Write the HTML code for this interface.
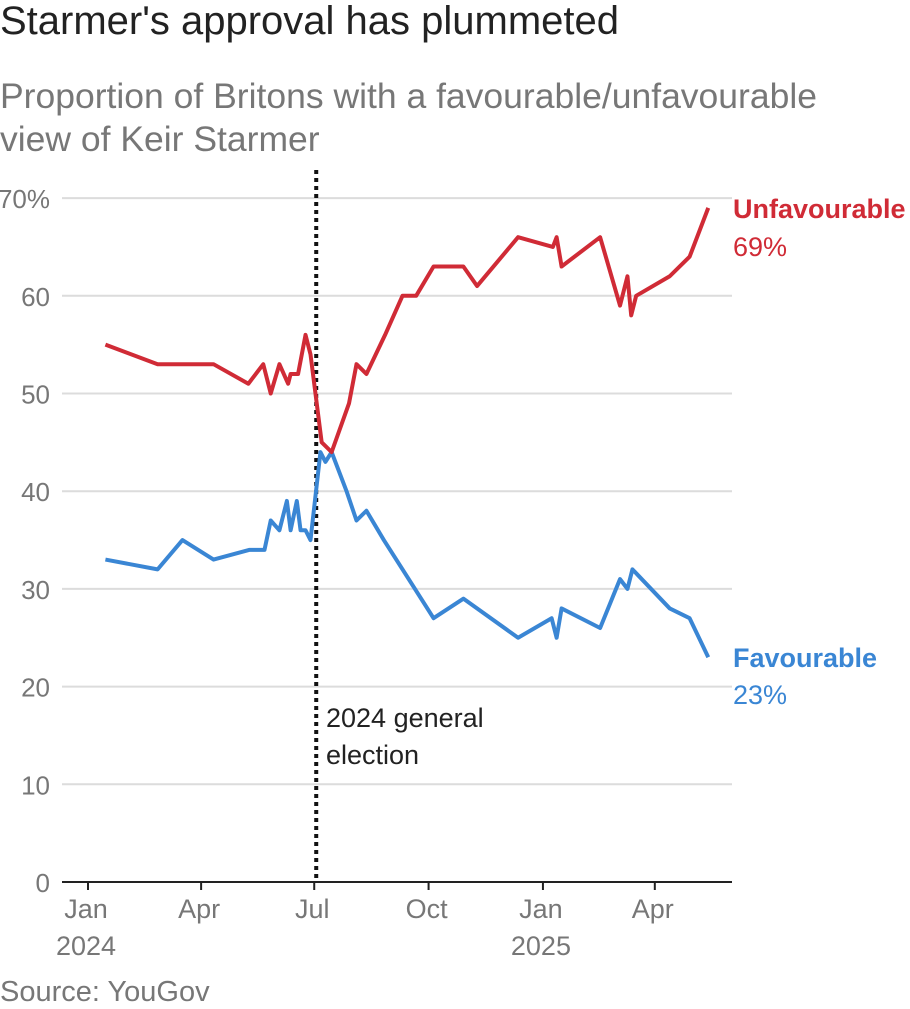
<!DOCTYPE html>
<html><head><meta charset="utf-8"><style>
body{margin:0;background:#fff;width:910px;height:1009px;overflow:hidden;font-family:"Liberation Sans",sans-serif}
h1{position:absolute;left:0;top:-2px;margin:0;font-weight:normal;font-size:40px;color:#222;line-height:46px}
.sub{position:absolute;left:0;top:75px;font-size:35.5px;line-height:43px;color:#777}
.src{position:absolute;left:0;top:976px;font-size:29px;color:#777}
svg{position:absolute;left:0;top:0}
</style></head><body>
<h1>Starmer's approval has plummeted</h1>
<div class="sub">Proportion of Britons with a favourable/unfavourable<br>view of Keir Starmer</div>
<div class="src">Source: YouGov</div>
<svg id="chart" width="910" height="1009"></svg>
<script>
// day offsets from 1 Jan 2024
const unfavDays=[14,56,101,129,141,147,154,161,163,169,175,179,183,188,196,210,216,224,239,253,264,278,302,313,346,374,377,381,412,428,434,437,441,468,484,499];
const unfavValues=[55,53,53,51,53,50,53,51,52,52,56,54,50,45,44,49,53,52,56,60,60,63,63,61,66,65,66,63,66,59,62,58,60,62,64,69];
const favDays=[14,56,76,101,130,142,147,154,160,163,168,171,175,179,187,191,196,208,216,224,238,253,278,302,346,373,377,381,412,428,434,438,468,484,499];
const favValues=[33,32,35,33,34,34,37,36,39,36,39,36,36,35,44,43,44,40,37,38,35,32,27,29,25,27,25,28,26,31,30,32,28,27,23];
const yTicks=[0,10,20,30,40,50,60,70];
const xTickDays=[0,91,182,274,366,456];
const xTickLabels=["Jan","Apr","Jul","Oct","Jan","Apr"];
const xYearLabels=["2024","","","","2025",""];
const electionDay=182;

const svg=document.getElementById('chart');
const NS='http://www.w3.org/2000/svg';
const x=d=>88+d*1.243;
const y=v=>882-v*9.77;
function mk(tag,attrs,parent){const e=document.createElementNS(NS,tag);for(const k in attrs)e.setAttribute(k,attrs[k]);(parent||svg).appendChild(e);return e;}

yTicks.forEach((t,i)=>{
  if(t>0){const g=mk('line',{x1:62,x2:732,y1:y(t),y2:y(t),stroke:'#dcdcdc','stroke-width':2});
  
  }
  const tx=mk('text',{x:50,y:y(t)+10,'text-anchor':'end','font-size':26,fill:'#777','font-family':'Liberation Sans Narrow, Liberation Sans, sans-serif'});
  tx.textContent=t+(i===yTicks.length-1?'%':'');
  
  
});
const ax=mk('line',{x1:62,x2:732,y1:882,y2:882,stroke:'#222','stroke-width':2});


xTickDays.forEach((d,i)=>{
  const tk=mk('line',{x1:x(d),x2:x(d),y1:882,y2:890,stroke:'#222','stroke-width':2});
  
  
  const t=mk('text',{x:x(d)-2,y:918,'text-anchor':'middle','font-size':27,fill:'#777','font-family':'Liberation Sans Narrow, Liberation Sans, sans-serif'});
  t.textContent=xTickLabels[i];
  
  
  if(xYearLabels[i]){const yt=mk('text',{x:x(d)-2,y:955,'text-anchor':'middle','font-size':27,fill:'#777','font-family':'Liberation Sans Narrow, Liberation Sans, sans-serif'});
  yt.textContent=xYearLabels[i];
  
  }
});
const el=mk('line',{x1:x(electionDay)+2,x2:x(electionDay)+2,y1:170,y2:882,stroke:'#111','stroke-width':4,'stroke-dasharray':'4 4'});


['2024 general','election'].forEach((s,i)=>{
  const t=mk('text',{x:326,y:727+i*37,'font-size':27,fill:'#222','font-family':'Liberation Sans Narrow, Liberation Sans, sans-serif'});
  t.textContent=s;
  
  
});
function line(days,vals,color,name){
  const p=mk('polyline',{points:days.map((d,i)=>x(d)+','+y(vals[i])).join(' '),fill:'none',stroke:color,'stroke-width':4,'stroke-linejoin':'round'});
  
  
}
line(favDays,favValues,'#3a86d4','favourable-line');
line(unfavDays,unfavValues,'#d02b36','unfavourable-line');
function lab(txt,yy,color,bold,name){
  const t=mk('text',{x:733,y:yy,'font-size':27,fill:color,'font-weight':bold?'bold':'normal','font-family':'Liberation Sans Narrow, Liberation Sans, sans-serif'});
  t.textContent=txt;
  
  
}
lab('Unfavourable',218,'#d02b36',true,'unfavourable-label');
lab(unfavValues[unfavValues.length-1]+'%',256,'#d02b36',false,'unfavourable-value');
lab('Favourable',667,'#3a86d4',true,'favourable-label');
lab(favValues[favValues.length-1]+'%',704,'#3a86d4',false,'favourable-value');
</script>
</body></html>
